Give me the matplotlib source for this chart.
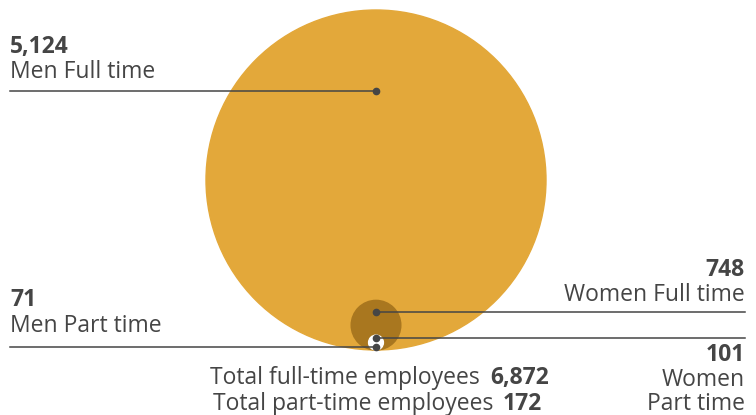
import matplotlib.pyplot as plt
from matplotlib.patches import Circle

# Employee counts
categories = ['Men Full time', 'Women Full time', 'Women Part time', 'Men Part time']
values = [5124, 748, 101, 71]
value_labels = ['5,124', '748', '101', '71']
total_full = '6,872'
total_part = '172'
part_time_total = 172

plt.rcParams['font.family'] = ['Open Sans', 'DejaVu Sans']
txt = '#454545'

fig = plt.figure(figsize=(7.56, 4.15), dpi=100)
ax = fig.add_axes([0, 0, 1, 1])
ax.set_xlim(0, 756)
ax.set_ylim(415, 0)
ax.set_aspect('equal')
ax.axis('off')

# nested circles, radius proportional to value, bottom aligned
cx, base = 376, 350
scale = 170 / values[0]
r_big = values[0] * scale
r_mid = values[1] * scale
r_small = part_time_total * scale * 1.3
ax.add_patch(Circle((cx, base - r_big), r_big, color='#E3A83A', zorder=1))
ax.add_patch(Circle((cx, base - r_mid), r_mid, color='#A9771F', zorder=2))
ax.add_patch(Circle((cx, base - r_small), r_small, color='white', zorder=3))

# leader lines and dots
lw = 1.1
ax.plot([10, cx], [91, 91], color=txt, lw=lw, zorder=4)
ax.plot([cx], [91], 'o', color=txt, ms=4.5, zorder=5)
ax.plot([cx, 745], [312, 312], color=txt, lw=lw, zorder=4)
ax.plot([cx], [312], 'o', color=txt, ms=4.5, zorder=5)
ax.plot([cx, 745], [338, 338], color=txt, lw=lw, zorder=4)
ax.plot([cx], [338], 'o', color=txt, ms=4.5, zorder=5)
ax.plot([10, cx], [347, 347], color=txt, lw=lw, zorder=4)
ax.plot([cx], [347], 'o', color=txt, ms=4.5, zorder=5)

fs = 16.5
# left labels
ax.text(10, 47, value_labels[0], fontsize=fs, fontweight='bold', color=txt, va='center', ha='left')
ax.text(10, 72, categories[0], fontsize=fs, color=txt, va='center', ha='left')
ax.text(10, 300, value_labels[3], fontsize=fs, fontweight='bold', color=txt, va='center', ha='left')
ax.text(10, 326, categories[3], fontsize=fs, color=txt, va='center', ha='left')

# right labels
ax.text(745, 270, value_labels[1], fontsize=fs, fontweight='bold', color=txt, va='center', ha='right')
ax.text(745, 295, categories[1], fontsize=fs, color=txt, va='center', ha='right')
ax.text(745, 355, value_labels[2], fontsize=fs, fontweight='bold', color=txt, va='center', ha='right')
ax.text(745, 380, 'Women', fontsize=fs, color=txt, va='center', ha='right')
ax.text(745, 404, 'Part time', fontsize=fs, color=txt, va='center', ha='right')

# totals
ax.text(480, 378, 'Total full-time employees', fontsize=fs, color=txt, va='center', ha='right')
ax.text(490, 378, total_full, fontsize=fs, fontweight='bold', color=txt, va='center', ha='left')
ax.text(493, 404, 'Total part-time employees', fontsize=fs, color=txt, va='center', ha='right')
ax.text(503, 404, total_part, fontsize=fs, fontweight='bold', color=txt, va='center', ha='left')

fig.savefig('out.png', dpi=100)
